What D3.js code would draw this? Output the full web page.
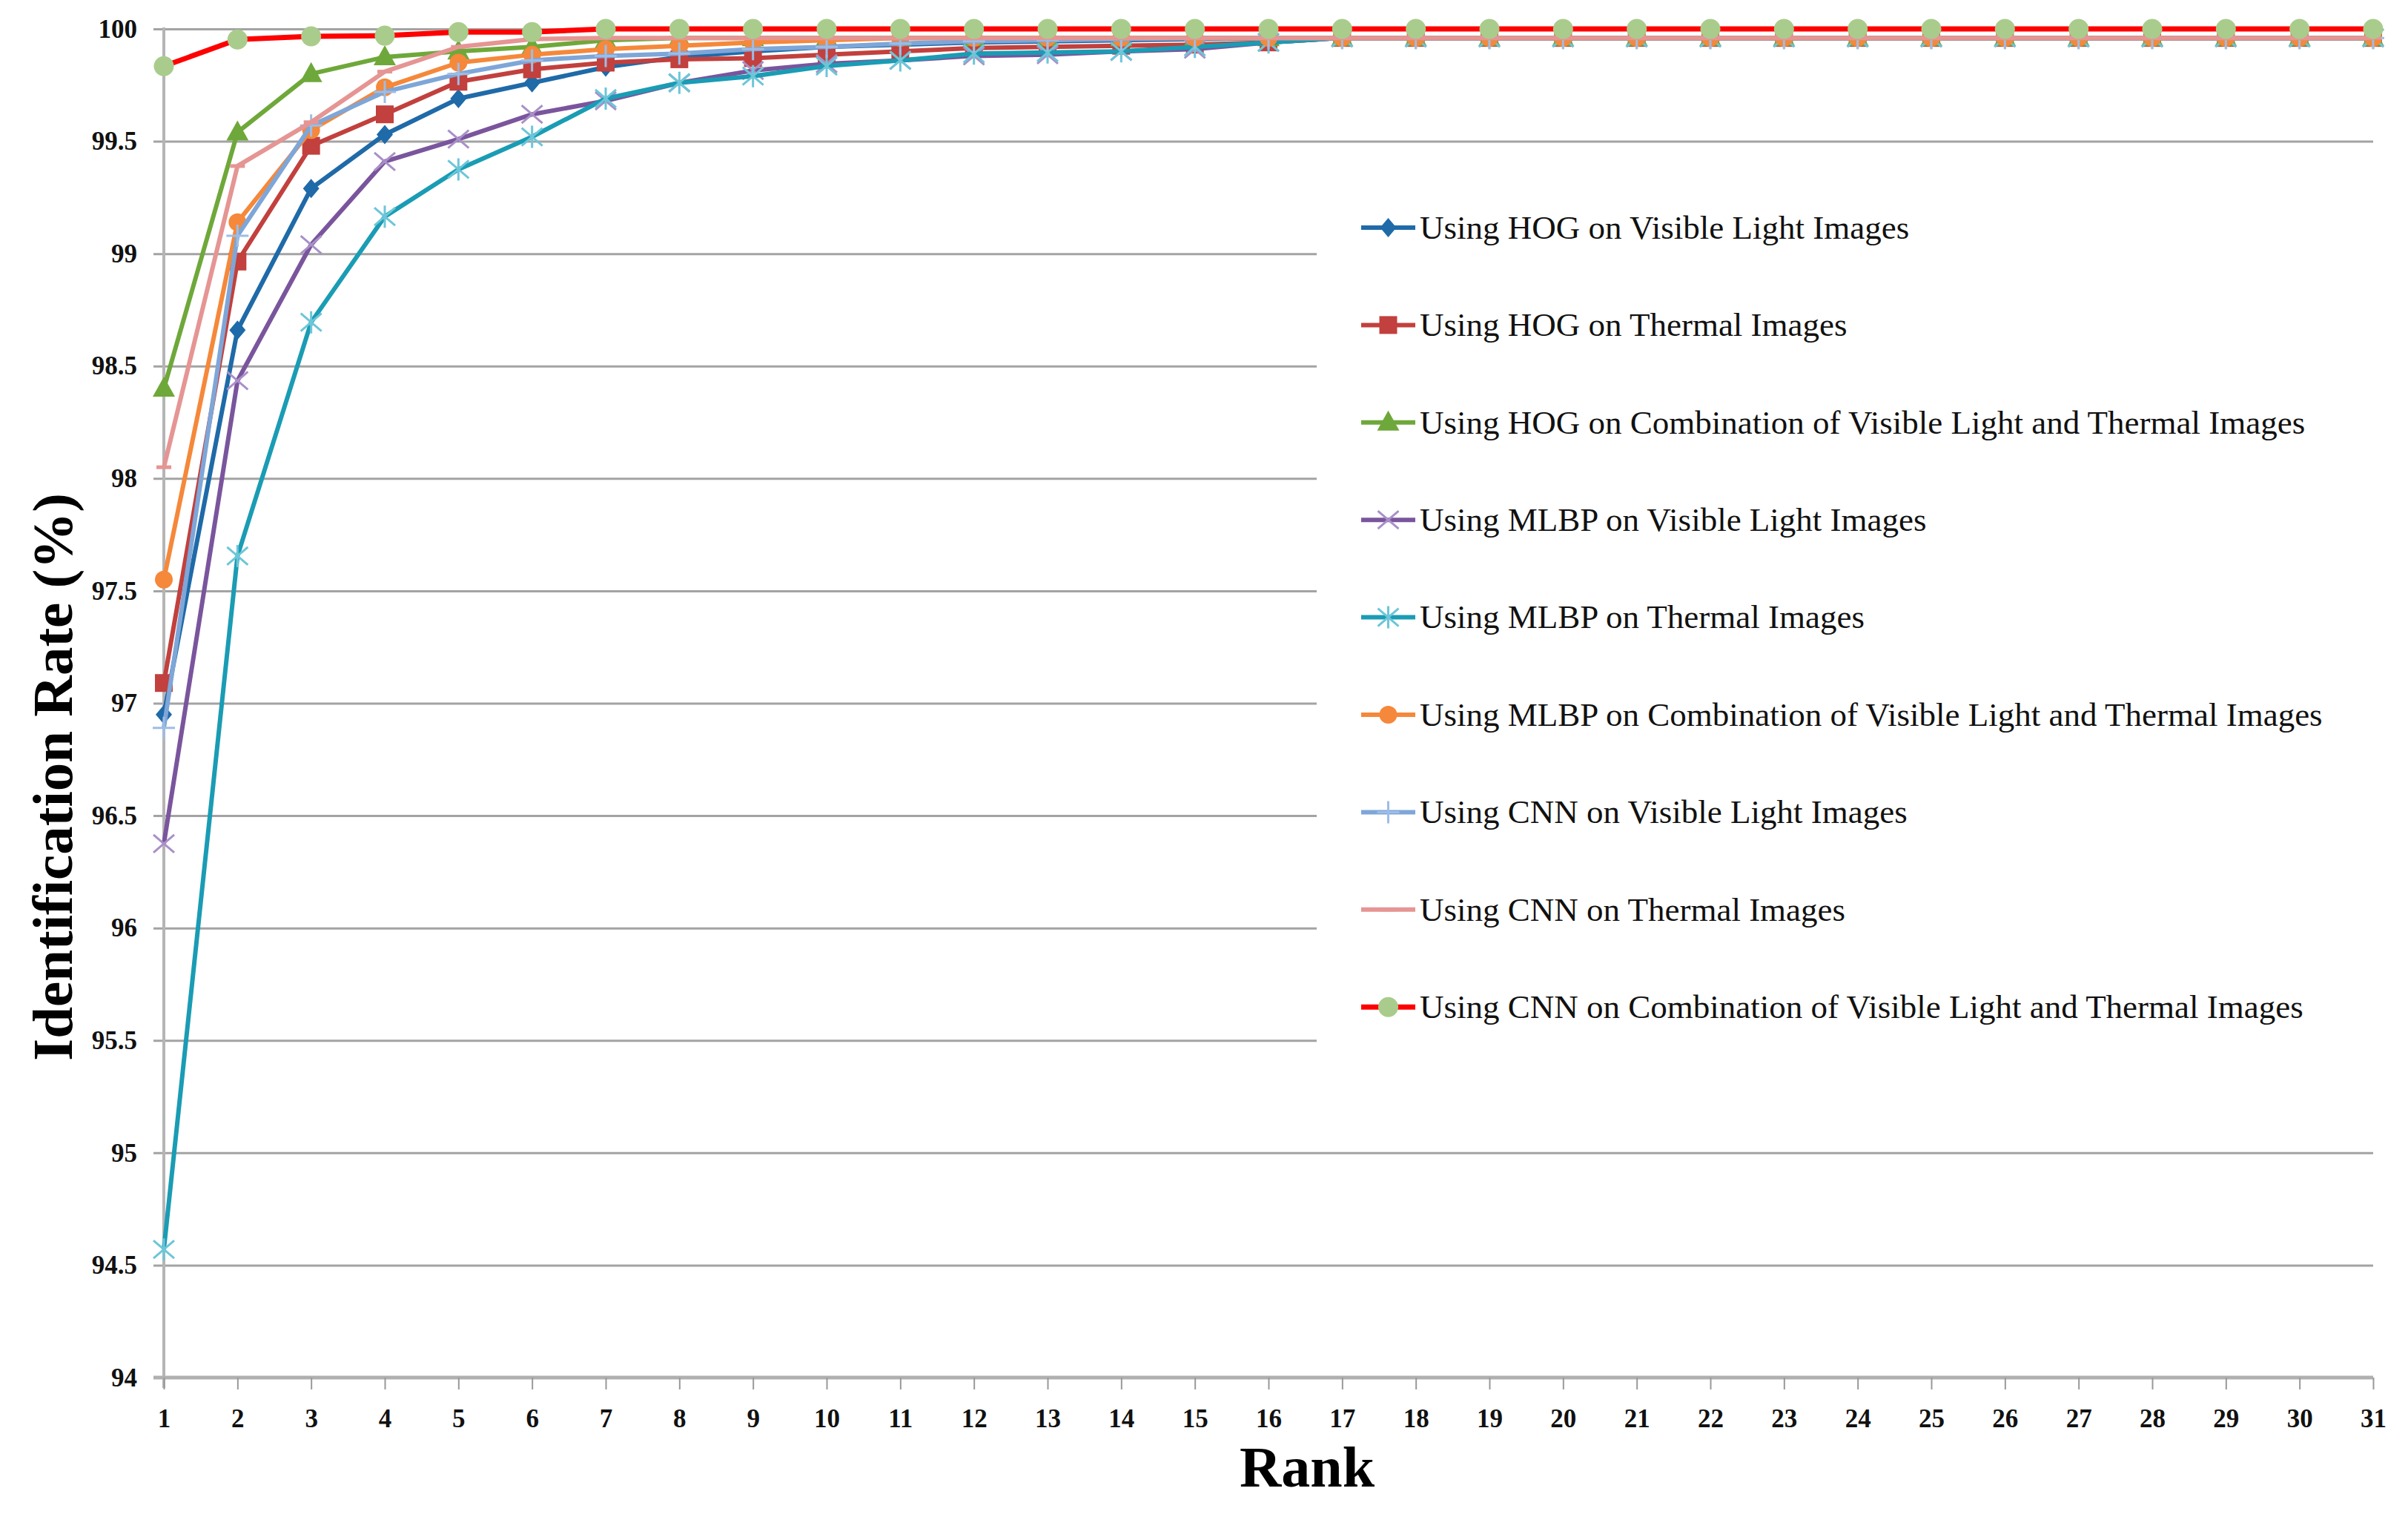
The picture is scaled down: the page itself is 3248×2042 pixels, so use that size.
<!DOCTYPE html>
<html>
<head>
<meta charset="utf-8">
<script src="https://cdn.jsdelivr.net/npm/d3@7"></script>
<style>
  body { margin: 0; background: #fff; }
  svg { display: block; font-family: "Liberation Serif", "Times New Roman", serif; }
</style>
</head>
<body>
<svg id="chart" width="3248" height="2042"></svg>
<script>
let ranks = [1, 2, 3, 4, 5, 6, 7, 8, 9, 10, 11, 12, 13, 14, 15, 16, 17, 18, 19, 20, 21, 22, 23, 24, 25, 26, 27, 28, 29, 30, 31];
let yTicks = [94, 94.5, 95, 95.5, 96, 96.5, 97, 97.5, 98, 98.5, 99, 99.5, 100];

let seriesNames = [
    "Using HOG on Visible Light Images",
    "Using HOG on Thermal Images",
    "Using HOG on Combination of Visible Light and Thermal Images",
    "Using MLBP on Visible Light Images",
    "Using MLBP on Thermal Images",
    "Using MLBP on Combination of Visible Light and Thermal Images",
    "Using CNN on Visible Light Images",
    "Using CNN on Thermal Images",
    "Using CNN on Combination of Visible Light and Thermal Images"
];

let hogVisible = [96.95, 98.66, 99.29, 99.53, 99.69, 99.76, 99.83, 99.875, 99.9, 99.92, 99.93, 99.94, 99.945, 99.95, 99.955,
    99.96, 99.96, 99.96, 99.96, 99.96, 99.96, 99.96, 99.96, 99.96, 99.96, 99.96, 99.96, 99.96, 99.96, 99.96, 99.96];
let hogThermal = [97.09, 98.965, 99.48, 99.62, 99.765, 99.82, 99.85, 99.865, 99.87, 99.885, 99.9, 99.915, 99.92, 99.925, 99.93,
    99.94, 99.96, 99.96, 99.96, 99.96, 99.96, 99.96, 99.96, 99.96, 99.96, 99.96, 99.96, 99.96, 99.96, 99.96, 99.96];
let hogCombo = [98.4, 99.54, 99.8, 99.875, 99.9, 99.92, 99.95, 99.96, 99.96, 99.96, 99.96, 99.96, 99.96, 99.96, 99.96,
    99.96, 99.96, 99.96, 99.96, 99.96, 99.96, 99.96, 99.96, 99.96, 99.96, 99.96, 99.96, 99.96, 99.96, 99.96, 99.96];
let mlbpVisible = [96.375, 98.435, 99.04, 99.41, 99.51, 99.62, 99.68, 99.76, 99.815, 99.845, 99.86, 99.88, 99.885, 99.9, 99.91,
    99.94, 99.96, 99.96, 99.96, 99.96, 99.96, 99.96, 99.96, 99.96, 99.96, 99.96, 99.96, 99.96, 99.96, 99.96, 99.96];
let mlbpThermal = [94.57, 97.655, 98.695, 99.165, 99.375, 99.52, 99.69, 99.76, 99.79, 99.835, 99.86, 99.89, 99.895, 99.9, 99.92,
    99.94, 99.96, 99.96, 99.96, 99.96, 99.96, 99.96, 99.96, 99.96, 99.96, 99.96, 99.96, 99.96, 99.96, 99.96, 99.96];
let mlbpCombo = [97.55, 99.14, 99.55, 99.74, 99.85, 99.885, 99.91, 99.925, 99.94, 99.95, 99.96, 99.96, 99.96, 99.96, 99.96,
    99.96, 99.96, 99.96, 99.96, 99.96, 99.96, 99.96, 99.96, 99.96, 99.96, 99.96, 99.96, 99.96, 99.96, 99.96, 99.96];
let cnnVisible = [96.89, 99.08, 99.57, 99.72, 99.8, 99.86, 99.88, 99.89, 99.91, 99.92, 99.935, 99.945, 99.95, 99.955, 99.96,
    99.96, 99.96, 99.96, 99.96, 99.96, 99.96, 99.96, 99.96, 99.96, 99.96, 99.96, 99.96, 99.96, 99.96, 99.96, 99.96];
let cnnThermal = [98.05, 99.39, 99.585, 99.81, 99.92, 99.955, 99.96, 99.96, 99.96, 99.96, 99.96, 99.96, 99.96, 99.96, 99.96,
    99.96, 99.96, 99.96, 99.96, 99.96, 99.96, 99.96, 99.96, 99.96, 99.96, 99.96, 99.96, 99.96, 99.96, 99.96, 99.96];
let cnnCombo = [99.834, 99.953, 99.967, 99.97, 99.986, 99.986, 100, 100, 100, 100, 100, 100, 100, 100, 100,
    100, 100, 100, 100, 100, 100, 100, 100, 100, 100, 100, 100, 100, 100, 100, 100];

let seriesValues = [hogVisible, hogThermal, hogCombo, mlbpVisible, mlbpThermal, mlbpCombo, cnnVisible, cnnThermal, cnnCombo];

// line colour, marker shape, marker colour
let seriesStyle = [
    {line: "#1f6aa8", marker: "diamond", fill: "#1f6aa8", width: 6},
    {line: "#c2403d", marker: "square", fill: "#c2403d", width: 6},
    {line: "#6fa83a", marker: "triangle", fill: "#6fa83a", width: 6},
    {line: "#7a559d", marker: "x", fill: "#a990c8", width: 6},
    {line: "#1a9cb4", marker: "star", fill: "#6cc6d8", width: 6},
    {line: "#f5883a", marker: "circle", fill: "#f5883a", width: 6},
    {line: "#7ea6d8", marker: "plus", fill: "#9dbde6", width: 6},
    {line: "#e59593", marker: "dash", fill: "#e59593", width: 6},
    {line: "#ff0000", marker: "bigcircle", fill: "#a9cc8c", width: 7}
];

let svg = d3.select("#chart");

let xScale = d3.scaleLinear().domain([1, 31]).range([221, 3201]);
let yScale = d3.scaleLinear().domain([94, 100]).range([1858, 39]);

// gridlines (drawn with the y axis, tick lines stretched across)
let yAxis = svg.append("g")
    .attr("transform", "translate(" + xScale(1) + ",0)")
    .call(d3.axisLeft(yScale).tickValues(yTicks).tickFormat(d3.format("")).tickSize(14).tickPadding(22));
yAxis.select(".domain").remove();
yAxis.selectAll(".tick line")
    .attr("x1", -14)
    .attr("x2", (d) => d === 94 ? 0 : xScale(31) - xScale(1))
    .attr("stroke", "#a3a3a3")
    .attr("stroke-width", 3);
yAxis.selectAll(".tick text")
    .attr("fill", "#111")
    .attr("font-size", 35)
    .attr("font-weight", "bold")
    .attr("font-family", "Liberation Serif");

// legend background hides the gridlines behind it
svg.append("rect")
    .attr("x", 1776).attr("y", 230)
    .attr("width", 1460).attr("height", 1215)
    .attr("fill", "#fff");

// axes lines
svg.append("line")
    .attr("x1", xScale(1)).attr("x2", xScale(1))
    .attr("y1", yScale(100) - 2).attr("y2", yScale(94) + 14)
    .attr("stroke", "#b5b5b5").attr("stroke-width", 4);

let xAxis = svg.append("g")
    .attr("transform", "translate(0," + yScale(94) + ")")
    .call(d3.axisBottom(xScale).tickValues(ranks).tickFormat(d3.format("d")).tickSize(16).tickPadding(26));
xAxis.select(".domain")
    .attr("stroke", "#b0b0b0")
    .attr("stroke-width", 5)
    .attr("d", "M" + (xScale(1) - 14) + ",0H" + xScale(31));
xAxis.selectAll(".tick line").attr("stroke", "#999").attr("stroke-width", 2);
xAxis.selectAll(".tick text")
    .attr("fill", "#111")
    .attr("font-size", 35)
    .attr("font-weight", "bold")
    .attr("font-family", "Liberation Serif");

function markerPath(type) {
    let p = d3.path();
    if (type === "diamond") {
        p.moveTo(0, -13); p.lineTo(11, 0); p.lineTo(0, 13); p.lineTo(-11, 0); p.closePath();
    } else if (type === "square") {
        p.rect(-12, -12, 24, 24);
    } else if (type === "triangle") {
        p.moveTo(0, -16); p.lineTo(15, 11); p.lineTo(-15, 11); p.closePath();
    } else if (type === "circle") {
        p.arc(0, 0, 12, 0, 2 * Math.PI);
    } else if (type === "bigcircle") {
        p.arc(0, 0, 13.5, 0, 2 * Math.PI);
    } else if (type === "x") {
        p.moveTo(-14, -12); p.lineTo(14, 12); p.moveTo(-14, 12); p.lineTo(14, -12);
    } else if (type === "star") {
        p.moveTo(-14, -12); p.lineTo(14, 12); p.moveTo(-14, 12); p.lineTo(14, -12);
        p.moveTo(0, -15); p.lineTo(0, 15);
    } else if (type === "plus") {
        p.moveTo(-15, 0); p.lineTo(15, 0); p.moveTo(0, -15); p.lineTo(0, 15);
    } else if (type === "dash") {
        p.moveTo(-10, 0); p.lineTo(10, 0);
    }
    return p.toString();
}

function drawMarker(sel, style) {
    let filled = ["diamond", "square", "triangle", "circle", "bigcircle"].includes(style.marker);
    sel.append("path")
        .attr("d", markerPath(style.marker))
        .attr("fill", filled ? style.fill : "none")
        .attr("stroke", filled ? "none" : style.fill)
        .attr("stroke-width", style.marker === "dash" ? 5 : 3);
}

let line = d3.line()
    .x((d) => xScale(d.rank))
    .y((d) => yScale(d.value));

let plot = svg.append("g").attr("id", "series");

seriesValues.forEach((values, i) => {
    let style = seriesStyle[i];
    let points = ranks.map((r, j) => ({rank: r, value: values[j]}));
    let g = plot.append("g");
    g.append("path")
        .datum(points)
        .attr("d", line)
        .attr("fill", "none")
        .attr("stroke", style.line)
        .attr("stroke-width", style.width)
        .attr("stroke-linejoin", "round");
    g.selectAll("g.marker")
        .data(points)
        .enter()
        .append("g")
        .attr("class", "marker")
        .attr("transform", (d) => "translate(" + xScale(d.rank) + "," + yScale(d.value) + ")")
        .each(function () { drawMarker(d3.select(this), style); });
});

// legend
let legend = svg.append("g").attr("id", "legend");
let legendItems = legend.selectAll("g")
    .data(seriesNames)
    .enter()
    .append("g")
    .attr("transform", (d, i) => "translate(1836," + (307 + i * 131.4) + ")");

legendItems.append("line")
    .attr("x1", 0).attr("x2", 73)
    .attr("stroke", (d, i) => seriesStyle[i].line)
    .attr("stroke-width", (d, i) => seriesStyle[i].width);

legendItems.append("g")
    .attr("transform", "translate(36.5,0)")
    .each(function (d, i) { drawMarker(d3.select(this), seriesStyle[i]); });

legendItems.append("text")
    .attr("x", 79)
    .attr("dy", "0.33em")
    .attr("font-size", 45)
    .attr("fill", "#111")
    .text((d) => d);

// axis titles
svg.append("text")
    .attr("x", 1763).attr("y", 2005)
    .attr("text-anchor", "middle")
    .attr("font-size", 78)
    .attr("font-weight", "bold")
    .attr("fill", "#000")
    .text("Rank");

svg.append("text")
    .attr("transform", "translate(97,1048) rotate(-90)")
    .attr("text-anchor", "middle")
    .attr("font-size", 77)
    .attr("font-weight", "bold")
    .attr("fill", "#000")
    .text("Identification Rate (%)");
</script>
</body>
</html>
